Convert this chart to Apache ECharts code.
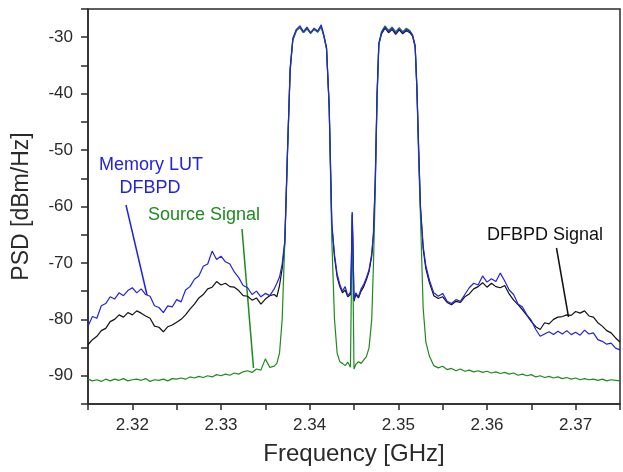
<!DOCTYPE html>
<html>
<head>
<meta charset="utf-8">
<script src="https://cdn.jsdelivr.net/npm/echarts@6/dist/echarts.min.js"></script>
<style>
  html, body { margin: 0; padding: 0; background: #fff; }
  #chart { width: 623px; height: 472px; }
</style>
</head>
<body>
<div id="chart"></div>
<script>
// frequency grid in GHz: coarse on the flanks, finer across the two channels
const freq = [
  2.3150, 2.3155, 2.3160, 2.3165, 2.3170, 2.3175, 2.3180, 2.3185, 2.3190, 2.3195,
  2.3200, 2.3205, 2.3210, 2.3215, 2.3220, 2.3225, 2.3230, 2.3235, 2.3240, 2.3245,
  2.3250, 2.3255, 2.3260, 2.3265, 2.3270, 2.3275, 2.3280, 2.3285, 2.3290, 2.3295,
  2.3300, 2.3305, 2.3310, 2.3315, 2.3320, 2.3325, 2.3330, 2.3335, 2.3340, 2.3345,
  2.3350, 2.3355, 2.3360,
  2.3363, 2.3366, 2.3369, 2.3372, 2.3375, 2.3378, 2.3381, 2.3385, 2.3389, 2.3393,
  2.3397, 2.3401, 2.3405, 2.3409, 2.3413, 2.3416, 2.3419, 2.3422, 2.3425, 2.3428,
  2.3431, 2.3434, 2.3437, 2.3440, 2.3443, 2.3446, 2.3447, 2.3448, 2.3449, 2.3450,
  2.3452, 2.3455, 2.3458, 2.3461, 2.3464, 2.3467, 2.3470, 2.3472, 2.3474, 2.3476,
  2.3478, 2.3481, 2.3485, 2.3489, 2.3493, 2.3497, 2.3501, 2.3505, 2.3509, 2.3513,
  2.3516, 2.3519, 2.3521, 2.3523, 2.3525, 2.3528, 2.3531, 2.3535,
  2.3540, 2.3545, 2.3550, 2.3555, 2.3560, 2.3565, 2.3570, 2.3575, 2.3580, 2.3585,
  2.3590, 2.3595, 2.3600, 2.3605, 2.3610, 2.3615, 2.3620, 2.3625, 2.3630, 2.3635,
  2.3640, 2.3645, 2.3650, 2.3655, 2.3660, 2.3665, 2.3670, 2.3675, 2.3680, 2.3685,
  2.3690, 2.3695, 2.3700, 2.3705, 2.3710, 2.3715, 2.3720, 2.3725, 2.3730, 2.3735,
  2.3740, 2.3745, 2.3750
];

// Memory LUT DFBPD (blue)
const lutDfbpd = [
  -81.2, -79.5, -79.8, -77.6, -77.2, -76.0, -76.4, -75.3, -75.8, -74.9,
  -74.4, -75.3, -74.6, -75.6, -75.9, -77.6, -77.9, -78.8, -77.6, -77.8,
  -76.5, -76.9, -74.8, -74.2, -72.9, -72.3, -70.6, -70.2, -67.9, -69.4,
  -68.8, -69.8, -70.2, -71.6, -72.6, -74.0, -74.4, -75.6, -75.0, -76.0,
  -75.4, -75.8, -74.6,
  -73.6, -72.5, -70.2, -66.0, -50.0, -35.5, -30.2, -28.6, -28.0, -29.0,
  -28.2, -29.2, -28.4, -28.9, -27.8, -29.6, -31.8, -42.0, -63.0, -68.5,
  -72.0, -73.8, -75.0, -74.2, -75.8, -75.2, -70.0, -61.0, -68.0, -76.5,
  -75.3, -76.0, -74.6, -73.8, -72.6, -71.2, -68.4, -64.5, -55.0, -40.0,
  -31.0, -29.2, -28.2, -29.0, -28.4, -29.3, -28.5, -29.2, -28.6, -29.0,
  -29.6, -31.5, -39.0, -50.0, -60.0, -67.0, -70.5, -73.0,
  -75.3, -75.9, -75.4, -76.8, -77.2, -76.5, -76.8, -75.6, -74.4, -73.6,
  -73.9, -72.3, -73.4, -72.8, -73.3, -71.8, -73.2, -74.8, -75.6, -77.3,
  -77.8, -79.2, -80.2, -81.8, -83.0, -82.6, -82.2, -82.7, -82.1, -82.6,
  -82.0, -82.7, -82.3, -82.8, -81.9, -82.6, -82.4, -83.6, -83.9, -84.4,
  -84.2, -85.1, -85.4
];

// DFBPD Signal (black)
const dfbpd = [
  -84.5, -83.6, -83.0, -82.0, -81.6, -80.4, -80.0, -79.2, -79.6, -78.8,
  -79.2, -78.5, -78.9, -79.4, -79.8, -81.2, -81.4, -82.2, -81.3, -81.0,
  -80.5, -80.0, -79.2, -78.2, -77.3, -76.2, -75.6, -74.6, -74.3, -73.3,
  -73.9, -73.6, -74.2, -74.3, -74.9, -75.8, -75.9, -76.6, -76.2, -77.3,
  -76.4, -75.8, -75.6,
  -76.0, -74.0, -71.0, -66.5, -50.5, -36.0, -30.5, -28.8, -28.3, -29.2,
  -28.5, -29.3, -28.6, -29.1, -28.1, -29.8, -32.0, -42.5, -63.5, -69.0,
  -72.5, -74.2, -75.3, -74.8, -76.0, -75.6, -70.5, -61.5, -68.5, -76.8,
  -75.6, -76.2, -75.0, -74.2, -73.0, -71.5, -68.8, -65.0, -55.5, -40.5,
  -31.3, -29.4, -28.4, -29.2, -28.6, -29.5, -28.7, -29.4, -28.8, -29.2,
  -29.8, -31.8, -39.5, -50.5, -60.5, -67.5, -71.0, -73.5,
  -75.8, -76.3, -76.0, -77.0, -77.4, -76.8, -77.0, -76.0, -75.5, -74.6,
  -74.2, -73.5, -74.3, -73.6, -74.2, -74.4, -74.0, -75.5, -76.6, -77.4,
  -78.3, -79.3, -80.4, -81.3, -81.8, -80.6, -80.8, -80.0, -79.6, -79.5,
  -79.2, -79.3, -78.6, -78.9, -78.5, -79.4, -79.6, -80.6, -81.2, -82.0,
  -82.4, -83.3, -84.0
];

// Source Signal (green)
const source = [
  -90.6, -90.9, -90.7, -91.0, -90.6, -90.9, -90.6, -90.8, -90.5, -90.9,
  -90.7, -90.6, -90.8, -90.5, -91.0, -90.7, -90.8, -90.6, -90.9, -90.5,
  -90.6, -90.4, -90.6, -90.2, -90.4, -90.1, -90.3, -90.0, -90.2, -89.8,
  -90.0, -89.7, -89.9, -89.5, -89.7, -89.3, -89.1, -89.4, -88.8, -89.0,
  -87.0, -88.5, -88.3,
  -87.8, -86.0, -80.0, -66.0, -50.5, -35.5, -30.5, -28.8, -28.3, -29.2,
  -28.4, -29.3, -28.6, -29.1, -28.2, -29.8, -32.0, -42.0, -66.0, -80.0,
  -86.0, -87.5, -87.8, -88.2, -87.6, -88.5, -75.0, -61.0, -75.0, -88.8,
  -88.0, -87.5, -87.8, -87.2, -86.6, -85.0, -80.0, -70.0, -57.0, -41.0,
  -31.5, -29.0, -28.0, -28.8, -28.2, -29.0, -28.3, -29.0, -28.4, -28.8,
  -29.6, -31.6, -39.5, -52.0, -62.0, -78.0, -84.0, -86.5,
  -88.2, -88.6, -88.3, -88.9, -88.7, -89.1, -88.8, -89.2, -89.0, -89.3,
  -89.1, -89.4, -89.2, -89.5, -89.3, -89.6, -89.4, -89.7, -89.5, -89.9,
  -89.7, -90.0, -89.8, -90.2, -90.0, -90.3, -90.1, -90.4, -90.2, -90.5,
  -90.3, -90.6, -90.4, -90.7, -90.5, -90.7, -90.6, -90.8, -90.6, -90.9,
  -90.7, -90.8, -90.9
];

const xLabels = [2.32, 2.33, 2.34, 2.35, 2.36, 2.37];
const yLabels = [-30, -40, -50, -60, -70, -80, -90];

const FONT = '"Liberation Sans", Arial, sans-serif';
const BLUE = '#2222e0';
const GREEN = '#1f8a1f';
const BLACK = '#111';
const AXIS = '#2a2a2a';

function pairs(vals) {
  return freq.map((f, i) => [f, vals[i]]);
}

const chart = echarts.init(document.getElementById('chart'));

const option = {
  animation: false,
  backgroundColor: '#fff',
  grid: {
    left: 88,
    top: 9,
    right: -3,
    bottom: 68,
    show: true,
    borderColor: AXIS,
    borderWidth: 1.5
  },
  xAxis: {
    type: 'value',
    min: 2.315,
    max: 2.375,
    interval: 0.005,
    name: 'Frequency [GHz]',
    nameLocation: 'middle',
    nameGap: 38,
    nameTextStyle: { fontSize: 24, color: AXIS, fontFamily: FONT },
    axisLine: { lineStyle: { color: AXIS, width: 1.5 } },
    axisTick: { length: 6, lineStyle: { color: AXIS, width: 1.5 } },
    axisLabel: {
      fontSize: 17,
      color: AXIS,
      fontFamily: FONT,
      margin: 13,
      formatter: v => {
        const hit = xLabels.find(l => Math.abs(l - v) < 1e-6);
        return hit !== undefined ? hit.toFixed(2) : '';
      }
    },
    splitLine: { show: false }
  },
  yAxis: {
    type: 'value',
    min: -95,
    max: -25,
    interval: 5,
    name: 'PSD [dBm/Hz]',
    nameLocation: 'middle',
    nameGap: 55,
    nameTextStyle: { fontSize: 23, color: AXIS, fontFamily: FONT },
    axisLine: { show: true, lineStyle: { color: AXIS, width: 1.5 } },
    axisTick: { show: true, length: 7, lineStyle: { color: AXIS, width: 1.5 } },
    axisLabel: {
      fontSize: 17,
      color: AXIS,
      fontFamily: FONT,
      margin: 15,
      formatter: v => (yLabels.includes(Math.round(v)) ? String(Math.round(v)) : '')
    },
    splitLine: { show: false }
  },
  series: [
    {
      name: 'DFBPD Signal',
      type: 'line',
      data: pairs(dfbpd),
      showSymbol: false,
      lineStyle: { color: BLACK, width: 1.2 },
      z: 2
    },
    {
      name: 'Source Signal',
      type: 'line',
      data: pairs(source),
      showSymbol: false,
      lineStyle: { color: GREEN, width: 1.2 },
      z: 3
    },
    {
      name: 'Memory LUT DFBPD',
      type: 'line',
      data: pairs(lutDfbpd),
      showSymbol: false,
      lineStyle: { color: BLUE, width: 1.2 },
      z: 4
    }
  ],
  graphic: [
    { type: 'text', style: { text: 'Memory LUT', x: 151, y: 165, align: 'center', verticalAlign: 'middle', font: '18px ' + FONT, fill: BLUE } },
    { type: 'text', style: { text: 'DFBPD', x: 150, y: 188, align: 'center', verticalAlign: 'middle', font: '18px ' + FONT, fill: BLUE } },
    { type: 'line', shape: { x1: 126, y1: 205, x2: 147, y2: 295 }, style: { stroke: BLUE, lineWidth: 1.5 } },
    { type: 'text', style: { text: 'Source Signal', x: 204, y: 215, align: 'center', verticalAlign: 'middle', font: '18px ' + FONT, fill: GREEN } },
    { type: 'line', shape: { x1: 242, y1: 229, x2: 253.5, y2: 368 }, style: { stroke: GREEN, lineWidth: 1.5 } },
    { type: 'text', style: { text: 'DFBPD Signal', x: 545, y: 235, align: 'center', verticalAlign: 'middle', font: '18px ' + FONT, fill: BLACK } },
    { type: 'line', shape: { x1: 556.5, y1: 248, x2: 568.5, y2: 317 }, style: { stroke: BLACK, lineWidth: 1.5 } }
  ]
};

chart.setOption(option);
</script>
</body>
</html>
